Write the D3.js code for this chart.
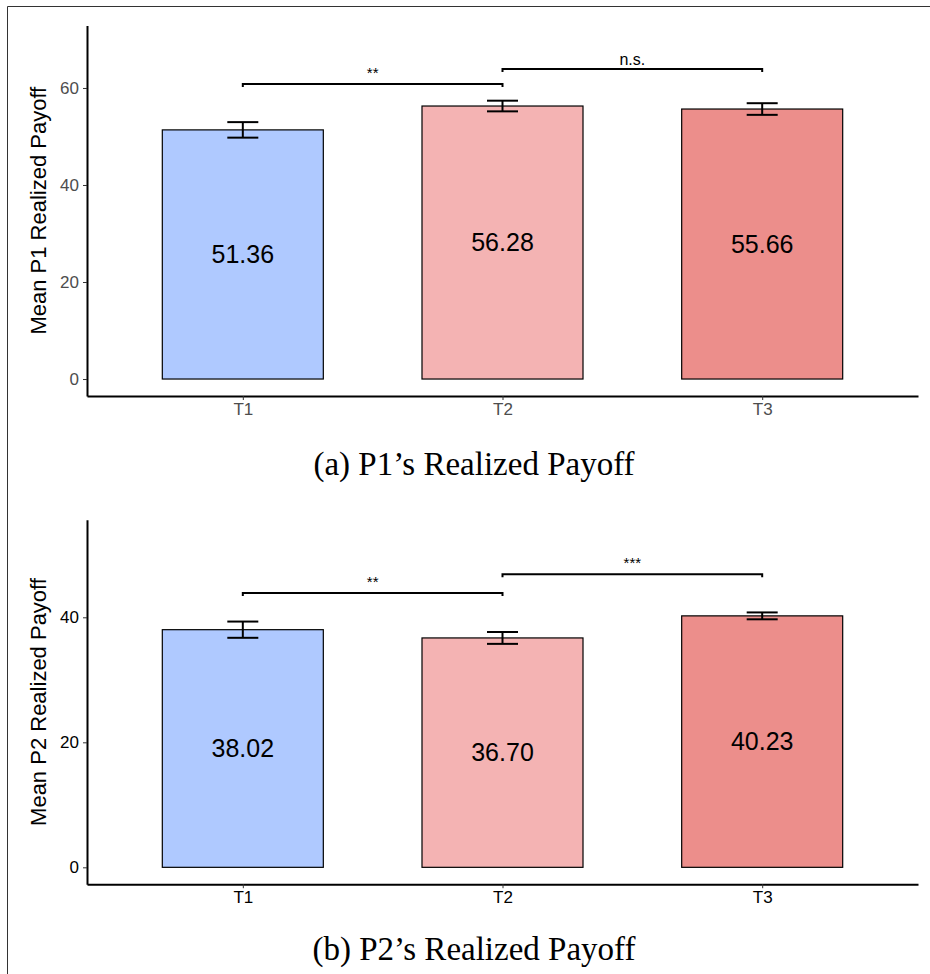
<!DOCTYPE html>
<html>
<head>
<meta charset="utf-8">
<script src="https://cdn.jsdelivr.net/npm/d3@7"></script>
<style>
  body { margin: 0; background: #fff; }
  svg { display: block; font-family: "Liberation Sans", Arial, sans-serif; }
</style>
</head>
<body>
<div id="chart"></div>
<script>
// data
const treatments = ['T1', 'T2', 'T3'];
const colors = ['#AFC9FF', '#F4B3B3', '#EC8E8B'];

const p1Means = [51.36, 56.28, 55.66];
const p1Se = [1.6, 1.1, 1.2];
const p1Labels = ['51.36', '56.28', '55.66'];
const p1Ticks = [0, 20, 40, 60];
const p1Brackets = [['T1', 'T2', 60.8, '**'], ['T2', 'T3', 63.9, 'n.s.']];

const p2Means = [38.02, 36.70, 40.23];
const p2Se = [1.3, 0.95, 0.55];
const p2Labels = ['38.02', '36.70', '40.23'];
const p2Ticks = [0, 20, 40];
const p2Brackets = [['T1', 'T2', 43.9, '**'], ['T2', 'T3', 46.9, '***']];

const W = 930;
const H = 974;

const svg = d3.select('#chart').append('svg')
  .attr('width', W)
  .attr('height', H);

// outer frame (left + top only)
svg.append('path')
  .attr('d', `M7.5,${H} L7.5,6.5 L${W},6.5`)
  .attr('fill', 'none')
  .attr('stroke', '#333')
  .attr('stroke-width', 1);

function drawPanel(opts) {
  const { means, se, labels, ticks, brackets, domain, top, bottom, tickColor, yTitle, caption, captionY } = opts;

  const left = 87;
  const right = 918;

  // discrete x with 0.6 unit padding like ggplot
  const x = d3.scalePoint()
    .domain(treatments)
    .range([left, right])
    .padding(0.6);
  const step = x.step();
  const barW = step * 0.62;

  const y = d3.scaleLinear()
    .domain(domain)
    .range([bottom, top]);

  const g = svg.append('g');

  // bars
  g.selectAll('rect.bar')
    .data(treatments)
    .join('rect')
    .attr('class', 'bar')
    .attr('x', d => x(d) - barW / 2)
    .attr('y', (d, i) => y(means[i]))
    .attr('width', barW)
    .attr('height', (d, i) => y(0) - y(means[i]))
    .attr('fill', (d, i) => colors[i])
    .attr('stroke', '#000')
    .attr('stroke-width', 1.2);

  // value labels in the middle of the bar
  g.selectAll('text.val')
    .data(treatments)
    .join('text')
    .attr('class', 'val')
    .attr('x', d => x(d))
    .attr('y', (d, i) => y(means[i] / 2))
    .attr('dy', '0.35em')
    .attr('text-anchor', 'middle')
    .attr('font-size', 25)
    .attr('fill', '#000')
    .text((d, i) => labels[i]);

  // error bars
  const cap = 15.5;
  const eb = g.selectAll('g.err')
    .data(treatments)
    .join('g')
    .attr('class', 'err')
    .attr('stroke', '#000')
    .attr('stroke-width', 2);
  eb.append('line')
    .attr('x1', d => x(d)).attr('x2', d => x(d))
    .attr('y1', (d, i) => y(means[i] - se[i]))
    .attr('y2', (d, i) => y(means[i] + se[i]));
  eb.append('line')
    .attr('x1', d => x(d) - cap).attr('x2', d => x(d) + cap)
    .attr('y1', (d, i) => y(means[i] + se[i]))
    .attr('y2', (d, i) => y(means[i] + se[i]));
  eb.append('line')
    .attr('x1', d => x(d) - cap).attr('x2', d => x(d) + cap)
    .attr('y1', (d, i) => y(means[i] - se[i]))
    .attr('y2', (d, i) => y(means[i] - se[i]));

  // significance brackets
  brackets.forEach(b => {
    const x1 = x(b[0]);
    const x2 = x(b[1]);
    const yy = y(b[2]);
    g.append('path')
      .attr('d', `M${x1},${yy + 3} L${x1},${yy} L${x2},${yy} L${x2},${yy + 3}`)
      .attr('fill', 'none')
      .attr('stroke', '#000')
      .attr('stroke-width', 2);
    g.append('text')
      .attr('x', (x1 + x2) / 2)
      .attr('y', b[3] === 'n.s.' ? yy - 4 : yy - 6)
      .attr('text-anchor', 'middle')
      .attr('font-size', b[3] === 'n.s.' ? 16 : 15)
      .attr('fill', '#000')
      .text(b[3]);
  });

  // axes
  const yAxis = g.append('g')
    .attr('transform', `translate(${left},0)`)
    .call(d3.axisLeft(y).tickValues(ticks).tickSize(4).tickPadding(4).tickSizeOuter(0));
  yAxis.select('.domain').attr('stroke-width', 2);
  yAxis.selectAll('.tick line').attr('stroke', '#333').attr('stroke-width', 1);
  yAxis.selectAll('.tick text')
    .attr('font-size', 17)
    .attr('font-family', '"Liberation Sans", Arial, sans-serif')
    .attr('fill', tickColor);

  const xAxis = g.append('g')
    .attr('transform', `translate(0,${bottom})`)
    .call(d3.axisBottom(x).tickSize(4).tickPadding(3).tickSizeOuter(0));
  xAxis.select('.domain').attr('stroke-width', 2);
  xAxis.selectAll('.tick line').attr('stroke', '#333').attr('stroke-width', 1);
  xAxis.selectAll('.tick text')
    .attr('font-size', 17)
    .attr('font-family', '"Liberation Sans", Arial, sans-serif')
    .attr('fill', tickColor);

  // axis title
  g.append('text')
    .attr('transform', `translate(38,${(top + bottom) / 2}) rotate(-90)`)
    .attr('dy', '0.35em')
    .attr('text-anchor', 'middle')
    .attr('font-size', 22)
    .attr('fill', '#000')
    .text(yTitle);

  // caption under the panel
  svg.append('text')
    .attr('x', 474)
    .attr('y', captionY)
    .attr('text-anchor', 'middle')
    .attr('font-family', '"Liberation Serif", "Times New Roman", serif')
    .attr('font-size', 33)
    .attr('fill', '#000')
    .text(caption);
}

drawPanel({
  means: p1Means, se: p1Se, labels: p1Labels, ticks: p1Ticks, brackets: p1Brackets,
  domain: [-3.5, 72.9], top: 25.4, bottom: 396,
  tickColor: '#4D4D4D',
  yTitle: 'Mean P1 Realized Payoff',
  caption: '(a) P1\u2019s Realized Payoff', captionY: 475
});

drawPanel({
  means: p2Means, se: p2Se, labels: p2Labels, ticks: p2Ticks, brackets: p2Brackets,
  domain: [-2.7, 55.6], top: 519.8, bottom: 884.2,
  tickColor: '#000',
  yTitle: 'Mean P2 Realized Payoff',
  caption: '(b) P2\u2019s Realized Payoff', captionY: 960
});
</script>
</body>
</html>
